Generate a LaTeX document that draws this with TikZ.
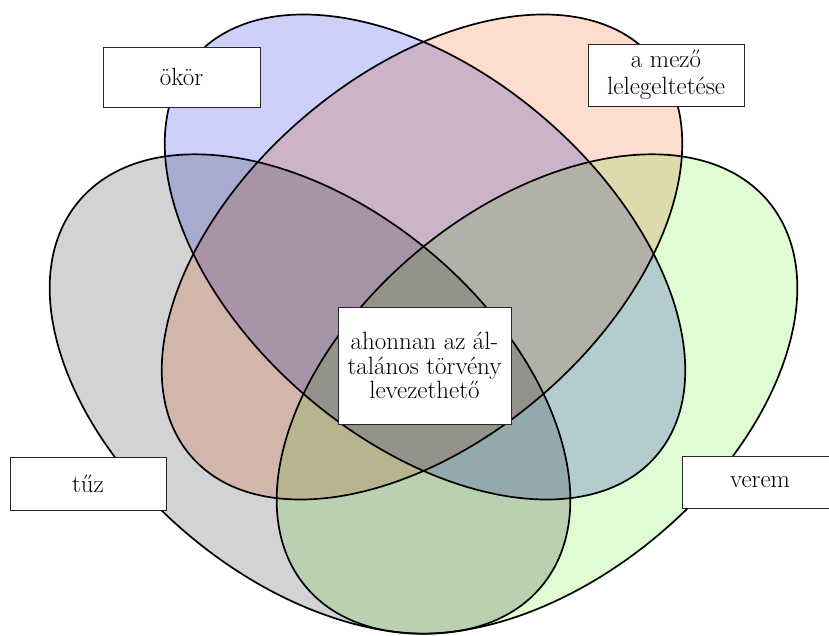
\documentclass[tikz,border=0pt]{standalone}
\usepackage{fontspec}
\definecolor{grayset}{HTML}{D3D3D5}
\definecolor{greenset}{HTML}{E0FCD4}
\definecolor{blueset}{HTML}{CCD0FA}
\definecolor{orangeset}{HTML}{FEDDCE}
\begin{document}
\begin{tikzpicture}[x=1pt,y=1pt,
  outline/.style={draw=black,line width=1.7pt},
  labelbox/.style={draw=black!85,line width=0.9pt,fill=white,inner sep=0pt,align=center,
    font=\fontsize{25}{24.5}\selectfont}]
\useasboundingbox (0,0) rectangle (829,-636);
\clip (0,0) rectangle (829,-636);
% fills, multiplied so that overlaps darken
\begin{scope}[blend mode=multiply]
  \fill[grayset,shift={(310,-394)},rotate=-39.7] (0,0) ellipse [x radius=301pt,y radius=186pt];
  \fill[greenset,shift={(537,-394)},rotate=39.7] (0,0) ellipse [x radius=301pt,y radius=186pt];
  \fill[orangeset,shift={(422,-257)},rotate=40.7] (0,0) ellipse [x radius=305pt,y radius=183pt];
  \fill[blueset,shift={(425,-257)},rotate=-40.7] (0,0) ellipse [x radius=305pt,y radius=183pt];
\end{scope}
% outlines
\draw[outline,shift={(310,-394)},rotate=-39.7] (0,0) ellipse [x radius=301pt,y radius=186pt];
\draw[outline,shift={(537,-394)},rotate=39.7] (0,0) ellipse [x radius=301pt,y radius=186pt];
\draw[outline,shift={(422,-257)},rotate=40.7] (0,0) ellipse [x radius=305pt,y radius=183pt];
\draw[outline,shift={(425,-257)},rotate=-40.7] (0,0) ellipse [x radius=305pt,y radius=183pt];
% labels
\node[labelbox,minimum width=157pt,minimum height=60pt] (oxbox) at (181.5,-77) {ökör};
\node[labelbox,minimum width=156pt,minimum height=62pt,font=\fontsize{25}{27}\selectfont] (fieldbox) at (666,-75) {a mező\\lelegeltetése};
\node[labelbox,minimum width=173pt,minimum height=117pt] (centerbox) at (424.5,-365.5) {ahonnan az ál-\\talános törvény\\levezethető};
\node[labelbox,minimum width=156pt,minimum height=53pt] (firebox) at (88,-483.5) {tűz};
\node[labelbox,minimum width=156pt,minimum height=52pt] (pitbox) at (760,-482) {verem};
\end{tikzpicture}
\end{document}
